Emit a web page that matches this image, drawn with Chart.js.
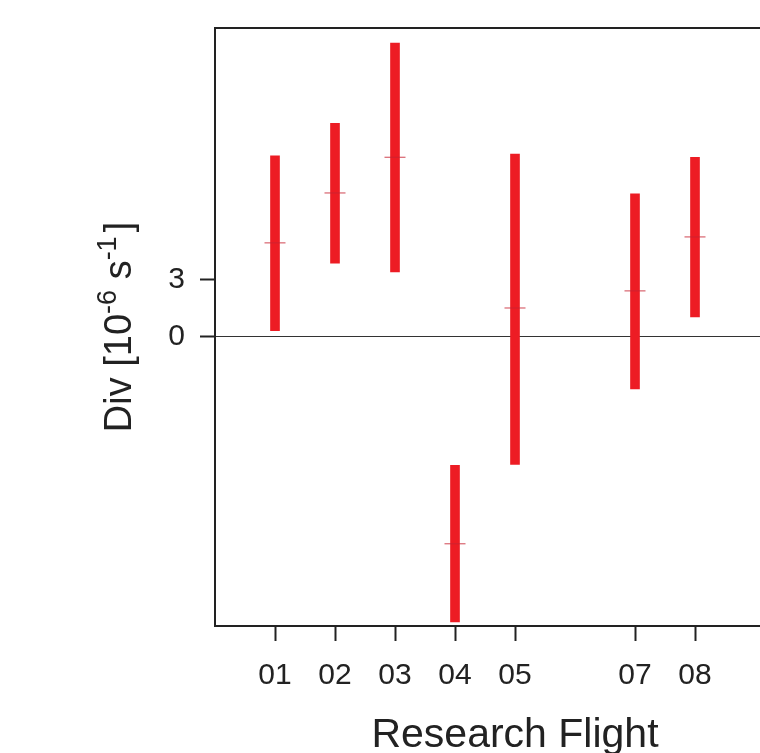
<!DOCTYPE html>
<html>
<head>
<meta charset="utf-8">
<script src="https://cdn.jsdelivr.net/npm/chart.js@4"></script>
<style>
  html, body { margin: 0; padding: 0; background: #fff; overflow: hidden; }
  #wrap { width: 830px; height: 753px; }
</style>
</head>
<body>
<div id="wrap"><canvas id="chart" width="830" height="753"></canvas></div>
<script>
// research flights (06 has no data)
const flights = [1, 2, 3, 4, 5, 7, 8];
const flightLabels = ['01', '02', '03', '04', '05', '07', '08'];
// divergence range and mean, in 10^-6 s^-1
const divLow = [0.33, 3.84, 3.39, -14.84, -6.63, -2.71, 1.04];
const divHigh = [9.43, 11.13, 15.30, -6.68, 9.53, 7.45, 9.36];
const divMean = [4.90, 7.50, 9.36, -10.77, 1.51, 2.40, 5.21];
const yTicks = [0, 3];

const FONT = '"Liberation Sans", Arial, Helvetica, sans-serif';
const AXIS = '#222';

// frame and axis titles
const extras = {
    id: 'extras',
    afterDraw(chart) {
        const ctx = chart.ctx;
        const a = chart.chartArea;
        ctx.save();
        ctx.strokeStyle = AXIS;
        ctx.lineWidth = 2;
        ctx.beginPath();
        ctx.moveTo(a.left, a.top);
        ctx.lineTo(a.right, a.top);
        ctx.stroke();

        ctx.fillStyle = '#222';
        ctx.textBaseline = 'alphabetic';
        ctx.textAlign = 'center';
        ctx.font = '41px ' + FONT;
        ctx.fillText('Research Flight', (a.left + a.right) / 2, 747);

        // y title with superscripts
        const parts = [
            ['Div [10', 38, 0, 0],
            ['-6', 27, -15, 0],
            [' s', 38, 0, 0],
            ['-1', 27, -15, 4],
            [']', 38, 0, 0]
        ];
        let total = 0;
        parts.forEach(p => {
            ctx.font = p[1] + 'px ' + FONT;
            total += ctx.measureText(p[0]).width + p[3];
        });
        ctx.translate(131, (a.top + a.bottom) / 2);
        ctx.rotate(-Math.PI / 2);
        ctx.textAlign = 'left';
        let x = -total / 2;
        parts.forEach(p => {
            ctx.font = p[1] + 'px ' + FONT;
            ctx.fillText(p[0], x, p[2]);
            x += ctx.measureText(p[0]).width + p[3];
        });
        ctx.restore();
    }
};

new Chart(document.getElementById('chart'), {
    type: 'bar',
    data: {
        datasets: [{
            type: 'scatter',
            data: flights.map((f, i) => ({ x: f, y: divMean[i] })),
            pointStyle: 'line',
            pointRadius: 10.5,
            borderWidth: 1,
            borderColor: 'rgba(200,35,50,0.85)',
            order: 1
        }, {
            data: flights.map((f, i) => ({ x: f, y: [divLow[i], divHigh[i]] })),
            backgroundColor: '#ed1c24',
            borderWidth: 0,
            barThickness: 9,
            order: 2
        }]
    },
    options: {
        responsive: false,
        animation: false,
        layout: { padding: { top: 28, right: 15, left: 0, bottom: 0 } },
        plugins: {
            legend: { display: false },
            tooltip: { enabled: false }
        },
        scales: {
            x: {
                type: 'linear',
                min: 0,
                max: 10,
                offset: false,
                afterFit(scale) {
                    scale.height = 127;
                    scale.paddingLeft = 0;
                    scale.paddingRight = 0;
                },
                afterBuildTicks(scale) {
                    scale.ticks = flights.map(v => ({ value: v }));
                },
                ticks: {
                    autoSkip: false,
                    maxRotation: 0,
                    padding: 17,
                    color: '#222',
                    font: { family: FONT, size: 30 },
                    callback: (v) => flightLabels[flights.indexOf(v)]
                },
                grid: {
                    offset: false,
                    color: 'rgba(0,0,0,0)',
                    tickColor: AXIS,
                    tickLength: 15,
                    tickWidth: 2
                },
                border: { color: AXIS, width: 2 }
            },
            y: {
                min: -15.05,
                max: 16.09,
                afterFit(scale) {
                    scale.width = 215;
                    scale.paddingTop = 0;
                    scale.paddingBottom = 0;
                },
                afterBuildTicks(scale) {
                    scale.ticks = yTicks.map(v => ({ value: v }));
                },
                ticks: {
                    padding: 15,
                    color: '#222',
                    font: { family: FONT, size: 30 }
                },
                grid: {
                    color: (c) => c.tick && c.tick.value === 0 ? '#333' : 'rgba(0,0,0,0)',
                    lineWidth: 1,
                    tickColor: AXIS,
                    tickLength: 15,
                    tickWidth: 2
                },
                border: { color: AXIS, width: 2 }
            }
        }
    },
    plugins: [extras]
});
</script>
</body>
</html>
